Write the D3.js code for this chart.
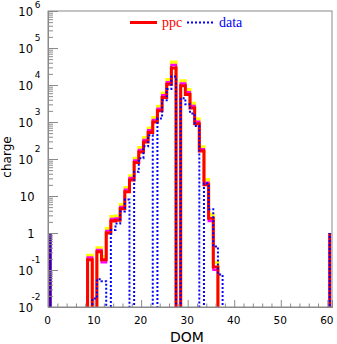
<!DOCTYPE html>
<html><head><meta charset="utf-8">
<script src="https://cdn.jsdelivr.net/npm/d3@7"></script>
<style>body{margin:0;background:#fff}svg{display:block}</style>
</head><body>
<svg id="c" width="337" height="344"></svg>
<script>
// ---- data ----
const doms = [1,2,3,4,5,6,7,8,9,10,11,12,13,14,15,16,17,18,19,20,
              21,22,23,24,25,26,27,28,29,30,31,32,33,34,35,36,37,38,39,40,
              41,42,43,44,45,46,47,48,49,50,51,52,53,54,55,56,57,58,59,60];
const ppc = [0,0,0,0,0,0,0,0, 0.19,0,0.31,0.19,1.0,2.1,2.2,4.5,13,27,80,155,
             290,520,1000,2000,4600,10500,29000,0,9500,5500,
             2400,900,165,20,2.5,0.12,0,0,0,0,
             0,0,0,0,0,0,0,0,0,0,0,0,0,0,0,0,0,0,0,0];
const ppcOuter = [0,0,0,0,0,0,0,0, 0.25,0,0.40,0.23,1.35,2.8,2.9,5.9,17,35,105,205,
             380,690,1330,2650,6100,14000,42000,0,13000,7500,
             3200,1200,215,28,3.2,0.16,0,0,0,0,
             0,0,0,0,0,0,0,0,0,0,0,0,0,0,0,0,0,0,0,0];
const ppcInner = [0,0,0,0,0,0,0,0, 0.22,0,0.35,0.16,1.15,2.4,2.5,5.1,15,31,92,178,
             330,600,1150,2300,5300,12000,35000,0,11000,6400,
             2750,1030,185,23,2.1,0.10,0,0,0,0,
             0,0,0,0,0,0,0,0,0,0,0,0,0,0,0,0,0,0,0,0];
const dataVals = [0,0,0,0,0,0,0,0,0, 0.017,0.056,0.05,0,1.2,1.8,3.8,8,0,45,105,
             220,440,0,1250,3900,7800,17000,0,4400,3000,
             1700,780,0,22,4.4,0.43,0.076,0,0,0,
             0,0,0,0,0,0,0,0,0,0,0,0,0,0,0,0,0,0,0,0];
const edgeLevel = 1;
const xTicks = [0,10,20,30,40,50,60];
const yTicks = [1e-2,1e-1,1,10,1e2,1e3,1e4,1e5,1e6];
const yTickBase = ["10","10","1","10","10","10","10","10","10"];
const yTickSup  = ["-2","-1","","","2","3","4","5","6"];
const legendLabels = ["ppc","data"];
const xTitle = "DOM", yTitle = "charge";

// ---- layout ----
const L=48, R=332, T=11, B=307;
const svg = d3.select("#c");
const x = d3.scaleLinear().domain([0,61]).range([L,R]);
const y = d3.scaleLog().domain([1e-2,1e6]).range([B,T]);
const axisCol = "#8a8a8a";

svg.append("defs").append("clipPath").attr("id","clip")
  .append("rect").attr("x",L).attr("y",T).attr("width",R-L).attr("height",B-T);

const yb = B + 8;
function stepPoints(vals, edge){
  const pts = [];
  const x0 = x(doms[0]-0.5), xN = x(doms[doms.length-1]+0.5);
  pts.push([x0, yb]);
  if (edge) pts.push([x0, y(edge)]);
  vals.forEach((v,i)=>{
    const yy = v>0 ? y(v) : yb;
    pts.push([x(doms[i]-0.5), yy],[x(doms[i]+0.5), yy]);
  });
  if (edge) pts.push([xN, y(edge)]);
  pts.push([xN, yb]);
  return pts;
}
const line = d3.line();
const g = svg.append("g").attr("clip-path","url(#clip)");
g.append("path").attr("d", line(stepPoints(ppcOuter))).attr("fill","none")
  .attr("stroke","#ffff00").attr("stroke-width",3);
g.append("path").attr("d", line(stepPoints(ppcInner))).attr("fill","none")
  .attr("stroke","#ff00ff").attr("stroke-width",2.2);
g.append("path").attr("d", line(stepPoints(ppc, edgeLevel))).attr("fill","none")
  .attr("stroke","#ff0000").attr("stroke-width",3);
g.append("path").attr("d", line(stepPoints(dataVals, edgeLevel))).attr("fill","none")
  .attr("stroke","#0000ff").attr("stroke-width",2).attr("stroke-dasharray","2,2");

// frame
svg.append("rect").attr("x",L).attr("y",T).attr("width",R-L).attr("height",B-T)
  .attr("fill","none").attr("stroke",axisCol).attr("stroke-width",1);

// x axis ticks
const xMinor = [2,4,6,8,12,14,16,18,22,24,26,28,32,34,36,38,42,44,46,48,52,54,56,58];
const gx = svg.append("g").attr("transform",`translate(0,${B})`);
gx.call(d3.axisBottom(x).tickValues(xTicks).tickSize(-7).tickFormat(""));
gx.append("g").call(d3.axisBottom(x).tickValues(xMinor).tickSize(-3.5).tickFormat(""));
gx.selectAll("path.domain").attr("stroke",axisCol);
gx.selectAll("line").attr("stroke",axisCol);
svg.selectAll(".xl").data(xTicks).enter().append("text")
  .attr("x",d=>x(d)-0.5).attr("y",323.5).attr("text-anchor","middle")
  .attr("font-family","DejaVu Sans").attr("font-size",10.5).attr("fill","#000").text(d=>d);

// y axis ticks
const yMinor = y.ticks().filter(v => !yTicks.some(t => Math.abs(t-v)/t < 1e-6));
const gy = svg.append("g").attr("transform",`translate(${L},0)`);
gy.call(d3.axisLeft(y).tickValues(yTicks).tickSize(-10).tickFormat(""));
gy.append("g").call(d3.axisLeft(y).tickValues(yMinor).tickSize(-5).tickFormat(""));
gy.selectAll("path.domain").attr("stroke",axisCol);
gy.selectAll("line").attr("stroke",axisCol);
yTicks.forEach((t,i)=>{
  const ty = y(t);
  const plain = yTickSup[i]==="";
  svg.append("text").attr("x", plain?34.5:33).attr("y",ty+4.5).attr("text-anchor","end")
    .attr("font-family","DejaVu Sans").attr("font-size",11.5).attr("fill","#000").text(yTickBase[i]);
  if(!plain){
    svg.append("text").attr("x",40.5).attr("y",Math.max(ty-7, 8)).attr("text-anchor","end")
      .attr("font-family","DejaVu Sans").attr("font-size",9).attr("fill","#000").text(yTickSup[i]);
  }
});

// titles
svg.append("text").attr("x",187).attr("y",341.5).attr("text-anchor","middle")
  .attr("font-family","DejaVu Sans").attr("font-size",14).attr("fill","#000").text(xTitle);
svg.append("text").attr("transform","translate(11,157) rotate(-90)").attr("text-anchor","middle")
  .attr("font-family","DejaVu Sans").attr("font-size",12).attr("fill","#000").text(yTitle);

// legend
svg.append("line").attr("x1",130).attr("x2",157).attr("y1",22.5).attr("y2",22.5)
  .attr("stroke","#ff0000").attr("stroke-width",3);
svg.append("text").attr("x",162).attr("y",26.5).attr("font-family","Liberation Serif")
  .attr("font-size",14).attr("fill","#ff0000").text(legendLabels[0]);
svg.append("line").attr("x1",187).attr("x2",213).attr("y1",22.5).attr("y2",22.5)
  .attr("stroke","#0000ff").attr("stroke-width",2).attr("stroke-dasharray","2,2");
svg.append("text").attr("x",219).attr("y",26.5).attr("font-family","Liberation Serif")
  .attr("font-size",14).attr("fill","#0000ff").text(legendLabels[1]);
</script>
</body></html>
